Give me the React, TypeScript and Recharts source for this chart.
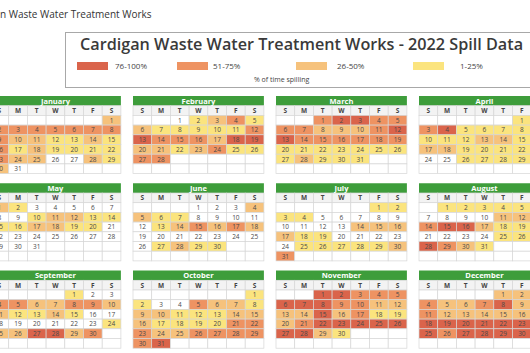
import React from "react";
import { ScatterChart, Scatter, XAxis, YAxis, ReferenceArea } from "recharts";

// spill level per day: 0 none, 1 = 1-25%, 2 = 26-50%, 3 = 51-75%, 4 = 76-100%
const JAN = [2, 3, 3, 3, 3, 3, 3, 3, 3, 2, 2, 1, 1, 2, 1, 3, 1, 2, 1, 1, 1, 1, 3, 2, 2, 0, 0, 2, 1, 2, 0];
const FEB = [0, 1, 2, 3, 1, 2, 1, 1, 1, 1, 1, 3, 4, 3, 3, 3, 2, 4, 4, 2, 2, 1, 2, 3, 1, 1, 3, 3];
const MAR = [3, 4, 4, 3, 3, 3, 3, 2, 2, 2, 3, 4, 4, 3, 3, 3, 3, 3, 3, 1, 1, 1, 1, 1, 1, 1, 1, 2, 1, 1, 1];
const APR = [1, 1, 3, 4, 1, 1, 1, 1, 1, 1, 1, 1, 2, 2, 1, 1, 2, 2, 1, 1, 1, 1, 1, 0, 0, 1, 1, 1, 1, 1];
const MAY = [2, 1, 0, 0, 0, 0, 0, 0, 0, 1, 2, 2, 1, 1, 1, 1, 2, 2, 1, 1, 0, 0, 0, 0, 0, 0, 0, 0, 0, 0, 0];
const JUN = [0, 0, 0, 2, 2, 1, 1, 0, 0, 0, 0, 0, 1, 2, 3, 2, 3, 2, 0, 0, 0, 0, 0, 0, 0, 0, 1, 2, 1, 1];
const JUL = [1, 1, 1, 1, 0, 0, 0, 0, 0, 0, 0, 0, 0, 2, 2, 2, 2, 1, 1, 0, 0, 0, 0, 0, 1, 1, 1, 1, 1, 2, 3];
const AUG = [1, 1, 1, 1, 1, 1, 0, 0, 0, 0, 2, 2, 1, 3, 4, 4, 2, 1, 1, 1, 0, 0, 0, 0, 1, 1, 1, 4, 3, 2, 1];
const SEP = [1, 0, 0, 3, 3, 2, 2, 3, 3, 2, 2, 1, 1, 2, 1, 0, 0, 0, 0, 0, 0, 0, 0, 1, 2, 2, 4, 4, 2, 3];
const OCT = [1, 1, 0, 0, 3, 2, 2, 1, 2, 2, 1, 1, 1, 2, 2, 2, 1, 1, 1, 1, 3, 3, 3, 2, 2, 3, 3, 3, 3, 3, 4];
const NOV = [4, 4, 3, 3, 3, 4, 4, 4, 3, 3, 2, 2, 2, 2, 4, 2, 3, 1, 1, 2, 3, 4, 4, 4, 4, 4, 4, 4, 2, 1];
const DEC = [2, 2, 2, 3, 2, 2, 3, 4, 2, 2, 3, 2, 2, 2, 2, 2, 2, 4, 4, 4, 4, 4, 4, 4, 4, 3, 4, 4, 4, 4, 4];

const MONTH_LEVELS = [JAN, FEB, MAR, APR, MAY, JUN, JUL, AUG, SEP, OCT, NOV, DEC];
const MONTH_NAMES = [
  "January", "February", "March", "April", "May", "June",
  "July", "August", "September", "October", "November", "December",
];
const WEEKDAYS = ["S", "M", "T", "W", "T", "F", "S"];
const YEAR = 2022;

const LEGEND_LABELS = ["76-100%", "51-75%", "26-50%", "1-25%"];
const LEVEL_COLORS = ["#ffffff", "#fbe47e", "#f6c27c", "#ee9362", "#da644b"];
const HEADER_GREEN = "#3e9d3b";
const GRID = "#d6d6d6";

// geometry (pixels per data unit)
const COL_PX = 18.7;
const ROW_PX = 9.7;
const MONTH_STRIDE = 143 / COL_PX;
const BLOCK_ROWS = 9;
const LEFT_PX = -10;
const TOP_PX = 96;
const W = 530;
const H = 353;
const X_DOMAIN = [-LEFT_PX / COL_PX - 0.5, (W - LEFT_PX) / COL_PX - 0.5];
const Y_DOMAIN = [-TOP_PX / ROW_PX - 0.5, (H - TOP_PX) / ROW_PX - 0.5];

function buildCells() {
  const cells: any[] = [];
  const names: any[] = [];
  MONTH_LEVELS.forEach((days, m) => {
    const xBase = (m % 4) * MONTH_STRIDE;
    const yBase = Math.floor(m / 4) * BLOCK_ROWS;
    const first = new Date(YEAR, m, 1).getDay();
    WEEKDAYS.forEach((d, i) => names.push({ x: xBase + i, y: yBase + 1, label: d }));
    for (let slot = 0; slot < 42; slot++) {
      const day = slot - first + 1;
      const inMonth = day >= 1 && day <= days.length;
      cells.push({
        x: xBase + (slot % 7),
        y: yBase + 2 + Math.floor(slot / 7),
        day: inMonth ? day : null,
        level: inMonth ? days[day - 1] : 0,
      });
    }
  });
  return { cells, names };
}

const { cells, names } = buildCells();

function DayCell(props: any) {
  const { cx, cy, payload } = props;
  if (cx == null || cy == null) return null;
  return (
    <g>
      <rect
        x={cx - COL_PX / 2}
        y={cy - ROW_PX / 2}
        width={COL_PX}
        height={ROW_PX}
        fill={LEVEL_COLORS[payload.level]}
        stroke={GRID}
        strokeWidth={0.7}
      />
      {payload.day != null && (
        <text x={cx} y={cy} textAnchor="middle" dominantBaseline="central" fontSize={6.5} fill="#4a4a4a">
          {payload.day}
        </text>
      )}
    </g>
  );
}

function NameCell(props: any) {
  const { cx, cy, payload } = props;
  if (cx == null || cy == null) return null;
  return (
    <g>
      <rect
        x={cx - COL_PX / 2}
        y={cy - ROW_PX / 2}
        width={COL_PX}
        height={ROW_PX}
        fill="#f3f3f3"
        stroke={GRID}
        strokeWidth={0.7}
      />
      <text x={cx} y={cy} textAnchor="middle" dominantBaseline="central" fontSize={6.5} fontWeight={700} fill="#444">
        {payload.label}
      </text>
    </g>
  );
}

function Legend() {
  const swatchX = [77, 177, 296, 413];
  const labelX = [115, 213, 337, 460];
  return (
    <>
      {LEGEND_LABELS.map((l, i) => (
        <React.Fragment key={l}>
          <div
            style={{
              position: "absolute",
              left: swatchX[i],
              top: 62,
              width: 31,
              height: 8,
              background: LEVEL_COLORS[4 - i],
            }}
          />
          <div style={{ position: "absolute", left: labelX[i], top: 60, fontSize: 8, color: "#444" }}>{l}</div>
        </React.Fragment>
      ))}
      <div style={{ position: "absolute", left: 254, top: 75, fontSize: 7, color: "#444" }}>% of time spilling</div>
    </>
  );
}

export default function App() {
  return (
    <div
      style={{
        position: "absolute",
        left: 0,
        top: 0,
        width: W,
        height: H,
        overflow: "hidden",
        background: "#fff",
        fontFamily: "'Open Sans', sans-serif",
      }}
    >
      <div style={{ position: "absolute", left: 0, top: 7, fontSize: 10, color: "#333", whiteSpace: "nowrap" }}>
        n Waste Water Treatment Works
      </div>
      <div
        style={{
          position: "absolute",
          left: 65,
          top: 32,
          width: 480,
          height: 54,
          border: "1px solid #a8a8a8",
        }}
      />
      <div
        style={{
          position: "absolute",
          left: 80,
          top: 33,
          fontSize: 16.2,
          fontWeight: 600,
          color: "#3a3a3a",
          whiteSpace: "nowrap",
        }}
      >
        Cardigan Waste Water Treatment Works - 2022 Spill Data
      </div>
      <Legend />
      <div style={{ position: "absolute", left: 0, top: 0 }}>
        <ScatterChart width={W} height={H} margin={{ top: 0, right: 0, bottom: 0, left: 0 }}>
          <XAxis type="number" dataKey="x" domain={X_DOMAIN} hide allowDataOverflow />
          <YAxis type="number" dataKey="y" domain={Y_DOMAIN} reversed hide allowDataOverflow />
          {MONTH_NAMES.map((name, m) => {
            const xBase = (m % 4) * MONTH_STRIDE;
            const yBase = Math.floor(m / 4) * BLOCK_ROWS;
            return (
              <ReferenceArea
                key={name}
                x1={xBase - 0.5}
                x2={xBase + 6.5}
                y1={yBase - 0.5}
                y2={yBase + 0.5}
                fill={HEADER_GREEN}
                fillOpacity={1}
                stroke="none"
                ifOverflow="visible"
                label={{ value: name, position: "inside", fill: "#fff", fontSize: 7.5, fontWeight: 700 }}
              />
            );
          })}
          <Scatter data={names} shape={(p: any) => <NameCell {...p} />} isAnimationActive={false} />
          <Scatter data={cells} shape={(p: any) => <DayCell {...p} />} isAnimationActive={false} />
        </ScatterChart>
      </div>
    </div>
  );
}
